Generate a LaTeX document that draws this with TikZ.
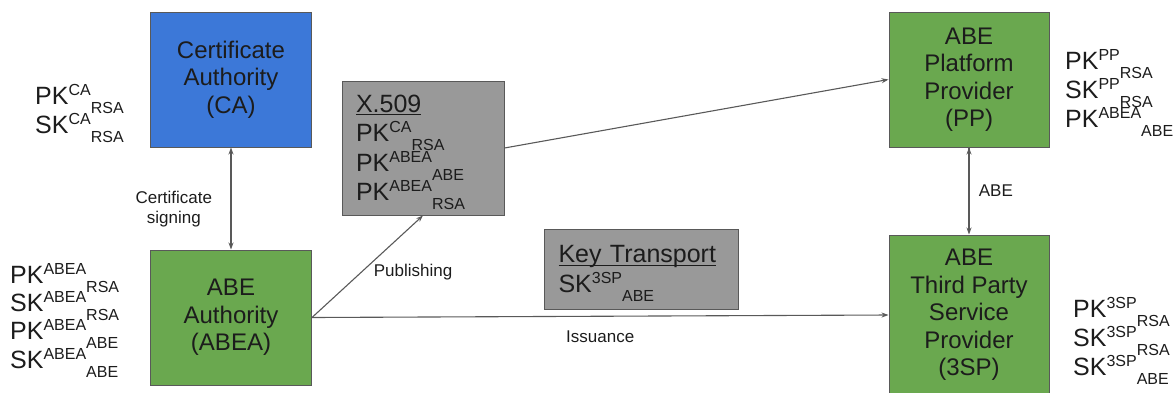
\documentclass[tikz,border=0pt]{standalone}
\usepackage{fontspec}
\setmainfont{Liberation Sans}
\usetikzlibrary{
    positioning,
    arrows.meta
}
\definecolor{caBlue}{HTML}{3C78D8}
\definecolor{abeGreen}{HTML}{6AA84F}
\definecolor{boxGray}{HTML}{999999}
\definecolor{edgeGray}{HTML}{595959}
\definecolor{inkDark}{HTML}{1C1C1C}
\newcommand{\kup}[1]{\smash{\raisebox{9pt}{\fontsize{16}{16}\selectfont #1}}}
\newcommand{\kdn}[1]{\smash{\raisebox{-9pt}{\fontsize{16}{16}\selectfont #1}}}
\newcommand{\ulbox}[1]{\setbox0\hbox{#1}\rlap{\rule[-3pt]{\wd0}{1.2pt}}\box0}
\tikzset{
  basic/.style = {
      draw=edgeGray,
      line width=1pt,
      text=inkDark,
      align=center,
      inner sep=0pt,
      font=\fontsize{24}{27.5}\selectfont
  },
  entity/.style = {
      basic,
      minimum width=161pt,
      minimum height=135pt
  },
  ca box/.style = {
      entity,
      fill=caBlue
  },
  abe box/.style = {
      entity,
      fill=abeGreen
  },
  doc box/.style = {
      basic,
      fill=boxGray,
      align=left,
      inner xsep=14pt,
      font=\fontsize{25}{29.5}\selectfont
  },
  keys/.style = {
      align=left,
      anchor=base west,
      inner sep=0pt,
      text=inkDark,
      font=\fontsize{25}{29}\selectfont
  },
  conn/.style = {
      draw=edgeGray,
      line width=1.1pt,
      -{Stealth[length=7pt, width=5pt]}
  },
  lbl/.style = {
      font=\fontsize{17}{20}\selectfont,
      text=inkDark,
      align=center
  }
}
\begin{document}
\begin{tikzpicture}[x=1pt, y=-1pt]
    \useasboundingbox (0,0) rectangle (1176,392);
    % Boxes
    \node[ca box] (ca) at (231,79.5) {Certificate\\Authority\\(CA)};
    \node[abe box, below=102pt of ca] (abea) {ABE\\Authority\\(ABEA)};
    \node[abe box, minimum width=160pt] (pp) at (969,79.5) {ABE\\Platform\\Provider\\(PP)};
    \node[abe box, minimum width=160pt, minimum height=160pt, below=87pt of pp] (tsp)
        {ABE\\Third Party\\Service\\Provider\\(3SP)};
    \node[doc box, text width=134pt, minimum height=134pt] (x509) at (423,148)
        {\ulbox{X.509}\\PK\kup{CA}\kdn{RSA}\\PK\kup{ABEA}\kdn{ABE}\\PK\kup{ABEA}\kdn{RSA}};
    \node[doc box, text width=166pt, minimum height=80pt] (kt) at (641.5,269)
        {\ulbox{Key Transport}\\SK\kup{3SP}\kdn{ABE}};
    % Keys (base = last line)
    \node[keys] (cakeys) at (35,133) {PK\kup{CA}\kdn{RSA}\\SK\kup{CA}\kdn{RSA}};
    \node[keys, font=\fontsize{25}{28.3}\selectfont] (abeakeys) at (10,368)
        {PK\kup{ABEA}\kdn{RSA}\\SK\kup{ABEA}\kdn{RSA}\\PK\kup{ABEA}\kdn{ABE}\\SK\kup{ABEA}\kdn{ABE}};
    \node[keys] (ppkeys) at (1065,127) {PK\kup{PP}\kdn{RSA}\\SK\kup{PP}\kdn{RSA}\\PK\kup{ABEA}\kdn{ABE}};
    \node[keys] (tspkeys) at (1073,375) {PK\kup{3SP}\kdn{RSA}\\SK\kup{3SP}\kdn{RSA}\\SK\kup{3SP}\kdn{ABE}};
    % Edges
    \path[conn]
    (ca.south) edge[{Stealth[length=7pt, width=5pt]}-{Stealth[length=7pt, width=5pt]}]
        node[lbl, midway, left=15pt, yshift=-11pt] {Certificate\\signing} (abea.north)
    (abea.east) edge node[lbl, pos=.45, right=8pt] {Publishing} (x509.south)
    (abea.east) edge node[lbl, midway, below=11pt] {Issuance} (tsp.west)
    (x509.east) edge (pp.west)
    (pp.south) edge node[lbl, midway, right=6pt] {ABE} (tsp.north);
\end{tikzpicture}
\end{document}
